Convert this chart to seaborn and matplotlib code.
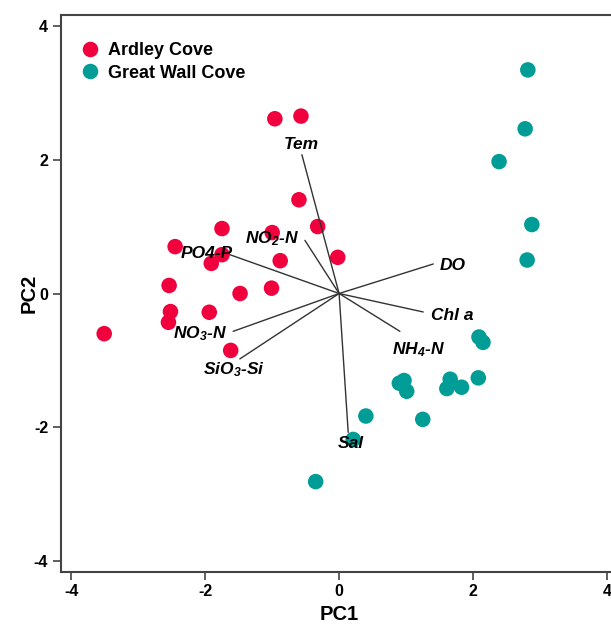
import numpy as np
import pandas as pd
import matplotlib
matplotlib.use("Agg")
import matplotlib.pyplot as plt
import seaborn as sns

############### Data (PCA scores and loadings)
ardley_pc1 = [-3.51, -2.54, -2.52, -2.55, -2.45, -1.75, -1.91, -1.75, -1.94, -1.48,
              -1.62, -1.01, -0.96, -0.57, -0.60, -0.32, -0.88, -1.00, -0.02]
ardley_pc2 = [-0.60, 0.12, -0.27, -0.43, 0.70, 0.97, 0.45, 0.58, -0.28, 0.00,
              -0.85, 0.08, 2.61, 2.65, 1.40, 1.00, 0.49, 0.91, 0.54]

greatwall_pc1 = [2.82, 2.78, 2.39, 2.88, 2.81, 2.09, 2.15, 2.08, 1.66, 1.61,
                 1.83, 0.90, 0.97, 1.01, 1.25, 0.40, 0.21, -0.35]
greatwall_pc2 = [3.34, 2.46, 1.97, 1.03, 0.50, -0.65, -0.73, -1.26, -1.28, -1.42,
                 -1.40, -1.34, -1.30, -1.46, -1.88, -1.83, -2.18, -2.81]

variables = [r"Tem", r"NO$_2$-N", r"PO4-P", r"DO", r"Chl a",
             r"NH$_4$-N", r"Sal", r"NO$_3$-N", r"SiO$_3$-Si"]
load_pc1 = [-0.556, -0.511, -1.633, 1.407, 1.257, 0.908, 0.136, -1.583, -1.483]
load_pc2 = [2.073, 0.794, 0.580, 0.441, -0.276, -0.565, -2.074, -0.565, -0.977]

############### label placement (pixel offsets from arrow tip, alignment)
label_style = [
    ((-1, 6), "center"),
    ((-6, -3), "right"),
    ((3, -3), "right"),
    ((6, -6), "left"),
    ((8, -8), "left"),
    ((-8, -23), "left"),
    ((3, -16), "center"),
    ((-6, -7), "right"),
    ((-6, -15), "center"),
]

site_colors = {"Ardley Cove": "#F0003C", "Great Wall Cove": "#009C96"}

df = pd.DataFrame({
    "PC1": ardley_pc1 + greatwall_pc1,
    "PC2": ardley_pc2 + greatwall_pc2,
    "site": ["Ardley Cove"] * len(ardley_pc1) + ["Great Wall Cove"] * len(greatwall_pc1),
})

sns.set_style("ticks")
plt.rcParams["font.family"] = ["Liberation Sans", "DejaVu Sans"]
plt.rcParams["axes.unicode_minus"] = False
plt.rcParams["mathtext.fontset"] = "custom"
for key in ("mathtext.rm", "mathtext.it", "mathtext.bf"):
    plt.rcParams[key] = "Liberation Sans:style=italic:weight=bold"
plt.rcParams["mathtext.default"] = "it"

fig = plt.figure(figsize=(6.11, 6.24), dpi=100)
ax = fig.add_axes([60.7 / 611, 52 / 624, 556.8 / 611, 557 / 624])

sns.scatterplot(data=df, x="PC1", y="PC2", hue="site", palette=site_colors,
                s=125, edgecolor="none", ax=ax, zorder=2)

# loading vectors
for name, lx, ly, (off, ha) in zip(variables, load_pc1, load_pc2, label_style):
    ax.plot([0, lx], [0, ly], color="#333333", lw=1.0, zorder=3)
    ax.annotate(name, (lx, ly), xytext=off, textcoords="offset pixels",
                ha=ha, va="baseline", fontsize=12.5, fontweight="bold",
                fontstyle="italic", color="black", zorder=4)

ax.set_xlim(-4.16, 4.16)
ax.set_ylim(-4.16, 4.16)
ax.set_xticks([-4, -2, 0, 2, 4])
ax.set_yticks([-4, -2, 0, 2, 4])
for lab in ax.get_xticklabels() + ax.get_yticklabels():
    lab.set_fontweight("bold")
ax.tick_params(axis="both", labelsize=11.5, length=6, width=1.2, color="#444444",
               labelcolor="black", pad=3)
for side in ("left", "bottom", "top", "right"):
    ax.spines[side].set_color("#444444")
    ax.spines[side].set_linewidth(1.5)

ax.set_xlabel("PC1", fontsize=14.5, fontweight="bold", labelpad=4, color="black")
ax.set_ylabel("PC2", fontsize=14.5, fontweight="bold", labelpad=-3.5, color="black")

leg = ax.legend(loc="upper left", bbox_to_anchor=(0.0207, 0.964), frameon=False,
                fontsize=13, handlelength=1.2, handletextpad=0.39,
                labelspacing=0.3, borderaxespad=0.0, markerscale=1.0)
for t in leg.get_texts():
    t.set_fontweight("bold")
    t.set_color("black")

plt.savefig("out.png", dpi=100)
